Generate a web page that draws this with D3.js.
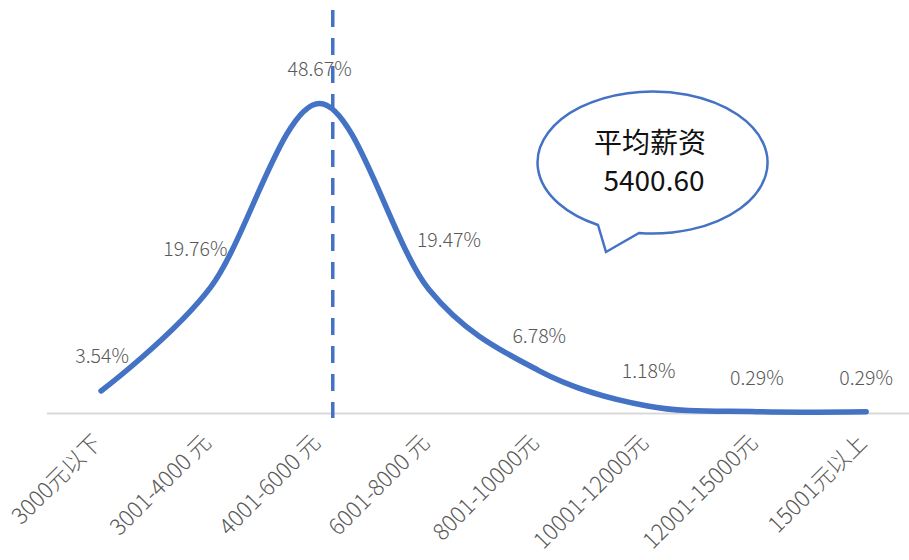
<!DOCTYPE html>
<html><head><meta charset="utf-8">
<script src="https://cdn.jsdelivr.net/npm/d3@7"></script>
<style>html,body{margin:0;padding:0;background:#fff;}svg{display:block;font-family:"Noto Sans CJK SC","Noto Sans",sans-serif;}</style>
</head><body>
<svg id="chart" width="909" height="560"></svg>
<script>
const categories = ["3000元以下","3001-4000 元","4001-6000 元","6001-8000 元","8001-10000元","10001-12000元","12001-15000元","15001元以上"];
const shares = [3.54, 19.76, 48.67, 19.47, 6.78, 1.18, 0.29, 0.29];
const shareLabels = ["3.54%","19.76%","48.67%","19.47%","6.78%","1.18%","0.29%","0.29%"];
const calloutTitle = "平均薪资";
const averageSalary = "5400.60";

const svg = d3.select("#chart");
const x = d3.scaleBand().domain(categories).range([46.4, 920.8]);
const step = x.step();
const cx = c => x(c) + step / 2;
const y = d3.scaleLinear().domain([0, 50]).range([413.5, 95]);

// axis
const ax = svg.append("g").attr("transform", "translate(0,413.5)")
  .call(d3.axisBottom(x).tickSize(0).tickFormat(""));
ax.select(".domain").attr("stroke", "#D9D9D9").attr("stroke-width", 2).attr("d", "M47,0H909");

// x labels
svg.append("g").selectAll("text").data(categories).join("text")
  .attr("transform", d => `translate(${cx(d) + 2},${444}) rotate(-45)`)
  .attr("text-anchor", "end")
  .attr("font-size", 22.5)
  .attr("font-weight", 300)
  .attr("fill", "#595959")
  .text(d => d);

// mean dashed line
const meanX = x(categories[2]) + step * 0.62;
svg.append("line").attr("x1", meanX).attr("x2", meanX).attr("y1", 10).attr("y2", 418)
  .attr("stroke", "#4472C4").attr("stroke-width", 3.5).attr("stroke-dasharray", "17,11");

// smooth line
const pts = categories.map((c, i) => [cx(c), y(shares[i])]);
svg.append("path").datum(pts)
  .attr("d", d3.line().curve(d3.curveCardinal.tension(0)))
  .attr("fill", "none").attr("stroke", "#4472C4").attr("stroke-width", 5.5)
  .attr("stroke-linecap", "round");

// data labels
const lblDx = [1, -15, 0, 20, 1, 1, 0, 0];
const lblDy = [-28, -32, -27, -42, -27, -28, -27, -27];
svg.append("g").selectAll("text").data(categories).join("text")
  .attr("x", (c, i) => cx(c) + lblDx[i])
  .attr("y", (c, i) => y(shares[i]) + lblDy[i])
  .attr("text-anchor", "middle")
  .attr("font-size", 19.5)
  .attr("font-weight", 300)
  .attr("fill", "#595959")
  .text((c, i) => shareLabels[i]);

// callout
svg.append("path")
  .attr("d", "M598,225 L606,252 L639,233 A115,71 0 1 0 598,225 Z")
  .attr("fill", "#fff").attr("stroke", "#4472C4").attr("stroke-width", 2.5).attr("stroke-linejoin", "miter");
svg.append("text").attr("x", 650).attr("y", 153).attr("text-anchor", "middle")
  .attr("font-size", 28).attr("fill", "#111").text(calloutTitle);
svg.append("text").attr("x", 654).attr("y", 191).attr("text-anchor", "middle")
  .attr("font-size", 28).attr("fill", "#111").text(averageSalary);
</script>
</body></html>
